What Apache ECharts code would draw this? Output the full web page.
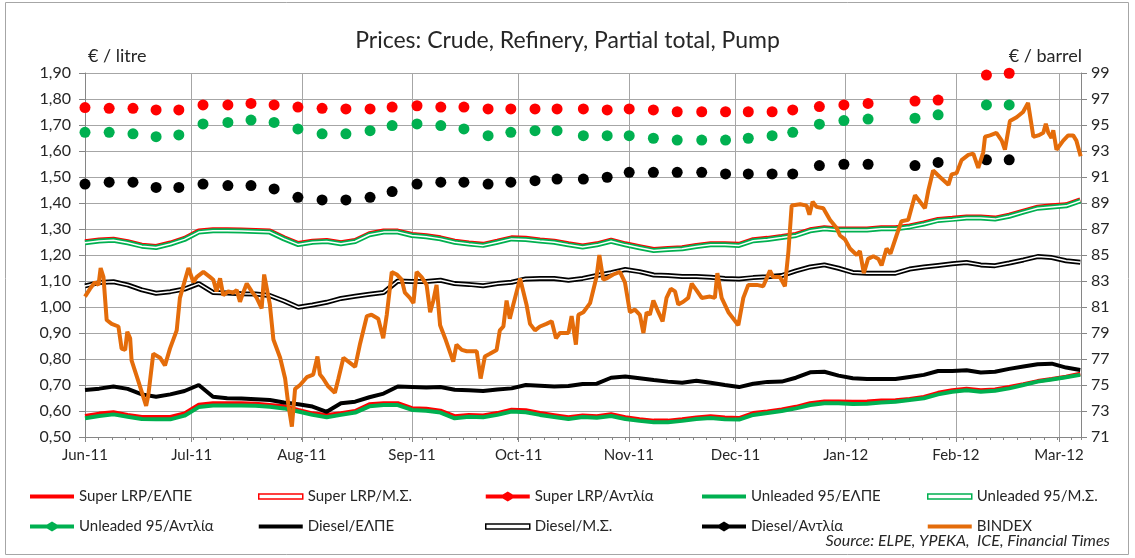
<!DOCTYPE html>
<html>
<head>
<meta charset="utf-8">
<title>Prices: Crude, Refinery, Partial total, Pump</title>
<script src="https://cdn.jsdelivr.net/npm/echarts@6/dist/echarts.min.js"></script>
<style>
  html, body { margin: 0; padding: 0; background: #fff; }
  #chart { width: 1135px; height: 558px; }
</style>
</head>
<body>
<div id="chart"></div>
<script>
// x values are days after 1 Jun 2011
const monthNames = ['Jan', 'Feb', 'Mar', 'Apr', 'May', 'Jun', 'Jul', 'Aug', 'Sep', 'Oct', 'Nov', 'Dec'];

// refinery (ΕΛΠΕ) and partial total (Μ.Σ.) lines, read every 4 days
const fuelDays = [0, 4, 8, 12, 16, 20, 24, 28, 32, 36, 40, 44, 48, 52, 56, 60, 64, 68, 72, 76,
  80, 84, 88, 92, 96, 100, 104, 108, 112, 116, 120, 124, 128, 132, 136, 140, 144, 148, 152, 156,
  160, 164, 168, 172, 176, 180, 184, 188, 192, 196, 200, 204, 208, 212, 216, 220, 224, 228, 232, 236,
  240, 244, 248, 252, 256, 260, 264, 268, 272, 276, 280];

const superRefinery = [0.581, 0.590, 0.595, 0.585, 0.577, 0.577, 0.577, 0.591, 0.624, 0.630,
  0.630, 0.630, 0.628, 0.623, 0.618, 0.604, 0.591, 0.585, 0.591, 0.600,
  0.626, 0.630, 0.630, 0.611, 0.609, 0.601, 0.580, 0.585, 0.583, 0.592,
  0.605, 0.603, 0.592, 0.584, 0.576, 0.583, 0.580, 0.588, 0.576, 0.568,
  0.563, 0.563, 0.568, 0.575, 0.580, 0.575, 0.573, 0.592, 0.598, 0.606,
  0.616, 0.630, 0.637, 0.637, 0.636, 0.637, 0.640, 0.641, 0.646, 0.654,
  0.670, 0.680, 0.686, 0.680, 0.683, 0.692, 0.703, 0.715, 0.723, 0.732, 0.743];
const unleadedRefinery = [0.572, 0.581, 0.587, 0.578, 0.569, 0.568, 0.568, 0.582, 0.615, 0.621,
  0.621, 0.621, 0.620, 0.616, 0.610, 0.598, 0.585, 0.576, 0.585, 0.594,
  0.618, 0.623, 0.623, 0.604, 0.601, 0.594, 0.572, 0.578, 0.576, 0.585,
  0.598, 0.595, 0.585, 0.577, 0.569, 0.577, 0.574, 0.581, 0.569, 0.562,
  0.557, 0.557, 0.562, 0.569, 0.573, 0.568, 0.567, 0.585, 0.592, 0.600,
  0.610, 0.623, 0.630, 0.630, 0.627, 0.628, 0.633, 0.636, 0.642, 0.649,
  0.664, 0.674, 0.680, 0.674, 0.678, 0.687, 0.700, 0.713, 0.721, 0.730, 0.739];
const dieselRefinery = [0.681, 0.686, 0.694, 0.685, 0.664, 0.655, 0.664, 0.677, 0.700, 0.655,
  0.649, 0.648, 0.645, 0.642, 0.633, 0.626, 0.617, 0.597, 0.630, 0.636,
  0.653, 0.667, 0.694, 0.692, 0.690, 0.692, 0.682, 0.680, 0.677, 0.683,
  0.687, 0.700, 0.697, 0.694, 0.696, 0.704, 0.705, 0.728, 0.733, 0.726,
  0.719, 0.713, 0.709, 0.716, 0.709, 0.700, 0.692, 0.705, 0.712, 0.713,
  0.728, 0.749, 0.751, 0.736, 0.726, 0.723, 0.723, 0.723, 0.731, 0.739,
  0.754, 0.754, 0.757, 0.748, 0.751, 0.762, 0.771, 0.780, 0.782, 0.767, 0.758];

const superPartial = [1.251, 1.258, 1.261, 1.251, 1.238, 1.233, 1.246, 1.264, 1.292, 1.297,
  1.297, 1.296, 1.294, 1.292, 1.266, 1.244, 1.253, 1.256, 1.247, 1.256,
  1.282, 1.292, 1.292, 1.279, 1.274, 1.266, 1.253, 1.246, 1.241, 1.253,
  1.266, 1.264, 1.258, 1.253, 1.243, 1.235, 1.243, 1.257, 1.243, 1.232,
  1.221, 1.225, 1.228, 1.237, 1.243, 1.243, 1.241, 1.259, 1.264, 1.271,
  1.279, 1.297, 1.305, 1.300, 1.300, 1.300, 1.305, 1.305, 1.312, 1.323,
  1.337, 1.341, 1.346, 1.346, 1.342, 1.353, 1.369, 1.384, 1.389, 1.393, 1.412];
const unleadedPartial = [1.247, 1.254, 1.257, 1.247, 1.234, 1.229, 1.242, 1.260, 1.288, 1.293,
  1.293, 1.292, 1.290, 1.288, 1.262, 1.240, 1.249, 1.252, 1.243, 1.252,
  1.278, 1.288, 1.288, 1.275, 1.270, 1.262, 1.249, 1.242, 1.237, 1.249,
  1.262, 1.260, 1.254, 1.249, 1.239, 1.231, 1.239, 1.253, 1.239, 1.228,
  1.217, 1.221, 1.224, 1.233, 1.239, 1.239, 1.237, 1.255, 1.260, 1.267,
  1.275, 1.293, 1.301, 1.296, 1.296, 1.296, 1.301, 1.301, 1.308, 1.319,
  1.333, 1.337, 1.342, 1.342, 1.338, 1.349, 1.365, 1.380, 1.385, 1.389, 1.408];
const dieselPartial = [1.081, 1.094, 1.097, 1.085, 1.066, 1.053, 1.059, 1.069, 1.090, 1.056,
  1.054, 1.051, 1.050, 1.044, 1.023, 0.999, 1.008, 1.018, 1.033, 1.041,
  1.049, 1.056, 1.100, 1.098, 1.098, 1.103, 1.090, 1.087, 1.082, 1.090,
  1.095, 1.108, 1.110, 1.110, 1.103, 1.110, 1.121, 1.132, 1.144, 1.136,
  1.123, 1.121, 1.117, 1.117, 1.114, 1.110, 1.108, 1.113, 1.116, 1.121,
  1.139, 1.154, 1.162, 1.149, 1.133, 1.130, 1.130, 1.130, 1.146, 1.154,
  1.160, 1.166, 1.171, 1.162, 1.159, 1.169, 1.181, 1.194, 1.190, 1.178, 1.172];

// weekly pump prices (Αντλία)
const pumpDays = [0, 6.8, 13.5, 20.0, 26.4, 33.2, 40.2, 46.7, 53.2, 59.9,
  66.7, 73.4, 80.2, 86.4, 93.4, 100.1, 106.6, 113.4, 119.8, 126.6,
  132.8, 140.2, 146.9, 153.1, 159.9, 166.6, 173.5, 180.2, 186.6, 193.3,
  199.1, 206.6, 213.5, 220.3, 233.5, 240.0, 253.6, 260.0];
const superPump = [1.767, 1.764, 1.764, 1.758, 1.758, 1.777, 1.777, 1.783, 1.777, 1.769,
  1.764, 1.762, 1.762, 1.769, 1.774, 1.769, 1.769, 1.762, 1.762, 1.762,
  1.762, 1.762, 1.758, 1.762, 1.758, 1.751, 1.751, 1.751, 1.751, 1.751,
  1.758, 1.771, 1.777, 1.783, 1.792, 1.796, 1.892, 1.899];
const unleadedPump = [1.672, 1.672, 1.666, 1.655, 1.662, 1.704, 1.710, 1.719, 1.710, 1.685,
  1.666, 1.666, 1.678, 1.698, 1.704, 1.698, 1.685, 1.659, 1.672, 1.678,
  1.678, 1.659, 1.659, 1.659, 1.649, 1.642, 1.642, 1.642, 1.649, 1.659,
  1.672, 1.703, 1.717, 1.723, 1.726, 1.739, 1.777, 1.777];
const dieselPump = [1.473, 1.480, 1.480, 1.460, 1.460, 1.473, 1.467, 1.467, 1.454, 1.422,
  1.412, 1.412, 1.422, 1.444, 1.473, 1.480, 1.480, 1.473, 1.480, 1.486,
  1.492, 1.492, 1.499, 1.518, 1.518, 1.518, 1.518, 1.512, 1.512, 1.512,
  1.512, 1.544, 1.549, 1.549, 1.544, 1.556, 1.566, 1.566];

// crude, € / barrel (right axis)
const bindexDays = [0, 1.4, 2.8, 3.8, 4.4, 5.2, 6.1, 7.5, 9.4, 10.3, 11.3, 11.9, 12.7, 13.1, 15.0, 17.2, 17.8, 19.2, 21.1, 22.5,
  23.9, 25.8, 26.7, 29.1, 30.5, 31.4, 33.3, 35.2, 36.1, 37.0, 38.0, 38.9, 40.3, 41.7, 42.7, 43.6, 44.5, 45.5, 46.9, 48.3,
  49.7, 50.4, 52.0, 53.0, 54.9, 56.3, 57.2, 58.2, 59.1, 60.5, 62.4, 64.2, 65.4, 66.1, 67.0, 68.4, 70.3,
  71.3, 72.7, 74.1, 76.0, 77.4, 78.3, 79.3, 80.6, 82.5, 83.9, 84.9, 86.3, 87.7, 89.1, 90.0, 91.4, 92.4, 93.3, 94.7, 96.1,
  97.1, 98.0, 98.9, 99.9, 101.3, 103.6, 104.5, 106.0, 107.4, 110.2, 111.3, 112.5, 113.9, 115.8, 116.7, 117.7, 118.6, 119.5, 120.5, 122.4,
  123.3, 124.2, 125.2, 126.6, 128.0, 129.8, 131.3, 132.5, 133.6, 136.0, 136.9, 138.1, 138.8, 140.2, 142.1,
  143.9, 144.7, 145.8, 146.7, 148.6, 150.5, 151.9, 153.3, 154.7, 156.1, 157.1, 158.0, 158.9, 159.9, 161.3, 162.5, 163.6, 164.8, 166.0, 166.9,
  168.3, 169.7, 170.7, 172.0, 173.5, 175.8, 177.2, 177.9, 179.1, 181.0, 183.8, 185.2, 186.6, 189.0, 190.8, 192.7, 193.6, 195.5, 196.9, 197.9,
  198.8, 201.2, 203.0, 203.8, 204.7, 205.8, 207.7,
  209.6, 211.4, 212.4, 213.8, 215.2, 217.1, 218.0, 219.1, 220.3, 221.8, 223.2, 224.1, 225.5, 226.6, 228.3, 229.7, 231.6, 233.5, 234.9, 236.3,
  237.2, 238.6, 240.5, 242.9, 243.8, 245.2, 246.6, 248.5, 249.9, 251.3, 252.7, 253.2, 254.6, 256.4, 257.9, 258.8, 260.2, 262.1, 263.9, 265.3,
  266.8, 268.2, 269.6, 270.3, 271.0, 271.9, 272.4, 273.3, 275.2, 276.6, 278.0, 278.9, 280.1];
const bindexValues = [81.8, 82.4, 82.9, 82.7, 84.0, 83.3, 80.0, 79.7, 79.5, 77.8, 77.7, 79.1, 78.6, 76.9, 75.3, 73.4, 74.2, 77.4, 77.1, 76.5,
  77.8, 79.2, 81.7, 84.0, 82.9, 83.3, 83.7, 83.3, 83.1, 82.2, 83.2, 81.9, 82.2, 82.1, 82.3, 81.4, 82.1, 82.8, 82.2, 81.7,
  80.9, 83.5, 81.2, 78.5, 77.1, 75.5, 73.5, 71.8, 74.7, 75.0, 75.6, 75.8, 77.2, 75.8, 75.5, 74.9, 74.4,
  75.5, 77.1, 76.8, 76.4, 78.2, 79.2, 80.3, 80.4, 80.1, 78.6, 80.4, 83.7, 83.5, 83.1, 82.1, 81.7, 81.3, 83.7, 83.3, 82.7,
  80.6, 81.5, 82.7, 79.6, 78.6, 76.8, 78.1, 77.7, 77.6, 77.6, 75.5, 77.2, 77.4, 77.7, 79.2, 79.5, 81.5, 80.1, 81.2, 83.2,
  82.2, 81.2, 79.7, 79.2, 79.5, 79.7, 79.9, 78.6, 79.0, 79.0, 80.3, 78.1, 80.4, 80.6, 81.3,
  83.3, 85.0, 83.1, 83.2, 83.5, 83.7, 82.9, 80.6, 80.8, 80.4, 79.0, 80.6, 80.4, 81.5, 80.6, 79.9, 81.7, 82.4, 82.2, 81.2,
  81.4, 81.7, 82.8, 82.3, 81.7, 81.8, 81.7, 83.6, 81.7, 80.6, 79.6, 81.7, 82.7, 82.7, 82.6, 83.8, 83.3, 83.3, 82.6, 85.3,
  88.8, 88.9, 88.8, 88.1, 89.1, 88.7, 88.6,
  87.7, 87.1, 86.5, 86.2, 85.5, 85.0, 85.3, 83.6, 84.7, 84.9, 84.7, 84.2, 85.5, 85.1, 86.5, 87.6, 87.7, 89.6, 89.1, 88.6,
  89.9, 91.5, 91.0, 90.4, 91.2, 91.3, 92.3, 92.7, 92.8, 91.7, 92.9, 94.1, 94.2, 94.4, 93.8, 93.1, 95.3, 95.6, 96.0, 96.7,
  94.1, 94.2, 94.4, 95.1, 94.4, 94.0, 94.6, 93.1, 93.8, 94.2, 94.2, 93.8, 92.6];

const DAY = 86400000;
const t0 = Date.UTC(2011, 5, 1);
const lastDay = 280.2;
const FONT = 'Lato, "Noto Sans", sans-serif';
const TEXT = '#262626';
const AXIS = '#868686';

const RED = '#ff0000';
const GREEN = '#00b050';
const BLACK = '#000000';
const ORANGE = '#e46c0a';

function pts(days, vals) {
  return days.map((d, i) => [t0 + d * DAY, vals[i]]);
}

function solidLine(name, days, vals, color, yAxisIndex) {
  return {
    name, type: 'line', data: pts(days, vals), yAxisIndex: yAxisIndex || 0,
    color, symbol: 'none', lineStyle: { width: 4, color }
  };
}

function doubleLine(name, days, vals, color) {
  return [
    { name, type: 'line', data: pts(days, vals), color, symbol: 'none', lineStyle: { width: 5, color } },
    { name: name + ' inner', type: 'line', data: pts(days, vals), color: '#ffffff', symbol: 'none',
      silent: true, lineStyle: { width: 1.5, color: '#ffffff' } }
  ];
}

function pumpDots(name, vals, color) {
  return { name, type: 'scatter', data: pts(pumpDays, vals), color, symbolSize: 11,
    itemStyle: { color, opacity: 1 } };
}

const ICON_LINE = 'path://M0,0L44,0L44,4L0,4Z';
const ICON_DOUBLE = 'path://M0,0L44,0L44,5L0,5Z';
const ICON_PUMP = 'path://M0,3L17,3L22,0L27,3L44,3L44,7L27,7L22,10L17,7L0,7Z';

const legendInfo = {
  'Super LRP/ΕΛΠΕ': ['line', RED],
  'Super LRP/Μ.Σ.': ['double', RED],
  'Super LRP/Αντλία': ['pump', RED],
  'Unleaded 95/ΕΛΠΕ': ['line', GREEN],
  'Unleaded 95/Μ.Σ.': ['double', GREEN],
  'Unleaded 95/Αντλία': ['pump', GREEN],
  'Diesel/ΕΛΠΕ': ['line', BLACK],
  'Diesel/Μ.Σ.': ['double', BLACK],
  'Diesel/Αντλία': ['pump', BLACK],
  'BINDEX': ['line', ORANGE]
};

const legendColumns = [
  [30, ['Super LRP/ΕΛΠΕ', 'Unleaded 95/Αντλία']],
  [258, ['Super LRP/Μ.Σ.', 'Diesel/ΕΛΠΕ']],
  [485, ['Super LRP/Αντλία', 'Diesel/Μ.Σ.']],
  [702, ['Unleaded 95/ΕΛΠΕ', 'Diesel/Αντλία']],
  [927, ['Unleaded 95/Μ.Σ.', 'BINDEX']]
];

function legendItem(name) {
  const [kind, color] = legendInfo[name];
  if (kind === 'double') {
    return { name, icon: ICON_DOUBLE, itemStyle: { color: '#ffffff', borderColor: color, borderWidth: 1.5 } };
  }
  return { name, icon: kind === 'pump' ? ICON_PUMP : ICON_LINE, itemStyle: { color, opacity: 1 } };
}

const chart = echarts.init(document.getElementById('chart'));

const option = {
  useUTC: true,
  animation: false,
  backgroundColor: '#ffffff',
  textStyle: { fontFamily: FONT },
  title: {
    text: 'Prices: Crude, Refinery, Partial total, Pump',
    left: 'center', top: 24,
    textStyle: { fontSize: 23, fontWeight: 'normal', color: TEXT, fontFamily: FONT }
  },
  grid: { left: 85, right: 54, top: 73, bottom: 121 },
  xAxis: [
    {
      type: 'time',
      position: 'bottom',
      min: t0,
      max: t0 + lastDay * DAY,
      splitNumber: 10,
      axisLine: { lineStyle: { color: AXIS } },
      axisTick: { length: 5, lineStyle: { color: AXIS } },
      splitLine: { show: true, lineStyle: { color: '#a6a6a6' } },
      axisLabel: {
        color: TEXT, fontSize: 15, margin: 11, fontFamily: FONT,
        formatter: (v) => {
          const d = new Date(v);
          return monthNames[d.getUTCMonth()] + '-' + String(d.getUTCFullYear()).slice(2);
        }
      }
    },
    {
      // minor ticks only: eight per month
      type: 'value',
      position: 'bottom',
      min: 0, max: lastDay, interval: 3.8,
      axisLine: { show: false },
      axisTick: { show: true, length: 3, lineStyle: { color: AXIS } },
      axisLabel: { show: false },
      splitLine: { show: false }
    }
  ],
  yAxis: [
    {
      type: 'value', min: 0.5, max: 1.9, interval: 0.1, position: 'left',
      axisLine: { show: true, lineStyle: { color: AXIS } },
      axisTick: { show: true, length: 6, lineStyle: { color: AXIS } },
      splitLine: { show: true, lineStyle: { color: '#a6a6a6' } },
      axisLabel: {
        color: TEXT, fontSize: 16, margin: 14, fontFamily: FONT,
        formatter: (v) => v.toFixed(2).replace('.', ',')
      }
    },
    {
      type: 'value', min: 71, max: 99, interval: 2, position: 'right',
      axisLine: { show: true, lineStyle: { color: AXIS } },
      axisTick: { show: true, length: 6, lineStyle: { color: AXIS } },
      splitLine: { show: false },
      axisLabel: { color: TEXT, fontSize: 16, margin: 10, fontFamily: FONT }
    }
  ],
  legend: legendColumns.map(([left, names]) => ({
    orient: 'vertical',
    left, top: 489, padding: 0,
    itemWidth: 44, itemHeight: 12, itemGap: 15,
    symbolKeepAspect: true,
    selectedMode: false,
    textStyle: { color: TEXT, fontSize: 15, fontFamily: FONT },
    data: names.map(legendItem)
  })),
  graphic: [
    { type: 'rect', shape: { x: 5.5, y: 2.5, width: 1123, height: 552 },
      style: { fill: 'none', stroke: '#a6a6a6', lineWidth: 1 }, silent: true },
    { type: 'text', left: 88, top: 47,
      style: { text: '€ / litre', fontSize: 18, fontFamily: FONT, fill: TEXT } },
    { type: 'text', right: 53, top: 47,
      style: { text: '€ / barrel', fontSize: 18, fontFamily: FONT, fill: TEXT } },
    { type: 'text', right: 25, top: 533,
      style: { text: 'Source: ELPE, YPEKA,  ICE, Financial Times', fontSize: 16, fontStyle: 'italic',
        fontFamily: FONT, fill: TEXT } }
  ],
  series: [
    solidLine('Super LRP/ΕΛΠΕ', fuelDays, superRefinery, RED),
    ...doubleLine('Super LRP/Μ.Σ.', fuelDays, superPartial, RED),
    pumpDots('Super LRP/Αντλία', superPump, RED),
    solidLine('Unleaded 95/ΕΛΠΕ', fuelDays, unleadedRefinery, GREEN),
    ...doubleLine('Unleaded 95/Μ.Σ.', fuelDays, unleadedPartial, GREEN),
    pumpDots('Unleaded 95/Αντλία', unleadedPump, GREEN),
    solidLine('Diesel/ΕΛΠΕ', fuelDays, dieselRefinery, BLACK),
    ...doubleLine('Diesel/Μ.Σ.', fuelDays, dieselPartial, BLACK),
    pumpDots('Diesel/Αντλία', dieselPump, BLACK),
    solidLine('BINDEX', bindexDays, bindexValues, ORANGE, 1)
  ]
};

chart.setOption(option);
</script>
</body>
</html>
